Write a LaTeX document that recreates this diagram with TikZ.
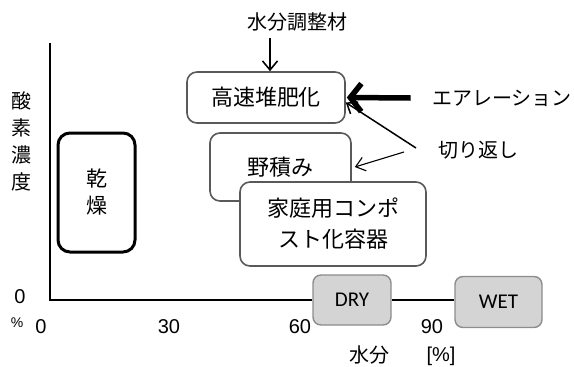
\documentclass[tikz,border=0pt]{standalone}
\usepackage{fontspec}
\setmainfont{Liberation Sans}
\newfontfamily\jp{Noto Sans CJK JP}
\newfontfamily\cb{Carlito}
\usetikzlibrary{arrows.meta}
\begin{document}
\begin{tikzpicture}[x=1pt,y=-1pt,
  gbox/.style={draw=black!65, line width=1.6pt, rounded corners=10pt, fill=white, inner sep=0pt, align=center},
  bbox/.style={draw=black, line width=3pt, rounded corners=12pt, fill=white, inner sep=0pt, align=center},
  sbox/.style={draw=black!45, line width=1.4pt, fill=black!17, rounded corners=8pt, inner sep=0pt, font=\cb\fontsize{21}{24}\selectfont},
  jt/.style={font=\jp\fontsize{22}{30}\selectfont},
  jsm/.style={font=\jp\fontsize{20}{24}\selectfont},
  num/.style={font=\fontsize{20}{24}\selectfont, inner sep=0pt},
  thinarr/.style={line width=1.5pt, -{Straight Barb[length=9pt,width=14pt,line width=1.5pt]}},
]
\useasboundingbox (0,0) rectangle (574,367);
% axes
\coordinate (ytop) at (50,43);
\coordinate (origin) at (50,300);
% boxes
\node[bbox, minimum width=77pt, minimum height=119pt, font=\jp\fontsize{21}{27}\selectfont] (kanso) at (96.5,192.5) {乾\\燥};
\node[gbox, jt, minimum width=158pt, minimum height=51pt] (kosoku) at (266,97.5) {高速堆肥化};
\node[gbox, jt, minimum width=141pt, minimum height=68pt] (noduki) at (280.5,167) {野積み};
\node[gbox, jt, minimum width=186pt, minimum height=84pt, font=\jp\fontsize{22}{31}\selectfont] (katei) at (333,224) {家庭用コンポ\\スト化容器};
\node[sbox, minimum width=78pt, minimum height=50pt] (dry) at (352,300) {DRY};
\node[sbox, minimum width=87pt, minimum height=51pt] (wet) at (498.5,302) {WET};
\draw[line width=1.3pt] (ytop) -- (origin) -- (dry.west);
\draw[line width=1.3pt] (dry.east) -- (dry.east -| wet.west);
% labels
\node[align=center, font=\jp\fontsize{20}{27}\selectfont] (oxy) at (22,141) {酸\\素\\濃\\度};
\node[jsm] (mizu) at (297,22) {水分調整材};
\node[jsm] (aer) at (502,98) {エアレーション};
\node[jsm] (kiri) at (478,150) {切り返し};
\node[num] (y0) at (20,297) {0};
\node[num, font=\fontsize{14}{16}\selectfont] (pct) at (17,323) {\%};
\node[num] (x0) at (41,327) {0};
\node[num] (x30) at (169,327) {30};
\node[num] (x60) at (300,327) {60};
\node[num] (x90) at (432,327) {90};
\node[jsm] (xlab) at (369,355) {水分};
\node[num] (xunit) at (441,356) {[\%]};
% arrows
\coordinate (a1) at (270,38);
\draw[line width=1.6pt, -{Straight Barb[length=9pt,width=15pt,line width=1.6pt]}] (a1) -- (a1 |- kosoku.north);
\draw[line width=5.5pt, -{Straight Barb[length=11pt,width=28pt,line width=5.5pt]}] ([xshift=-18pt]aer.west) -- ([xshift=1pt]kosoku.east);
\coordinate (k1) at (416,148);
\draw[thinarr] (k1) -- ([yshift=-5pt]kosoku.east);
\coordinate (k2) at (404,152);
\draw[line width=1.1pt, -{Straight Barb[length=9pt,width=14pt,line width=1.1pt]}] (k2) -- ([xshift=3pt]noduki.east);
\end{tikzpicture}
\end{document}
